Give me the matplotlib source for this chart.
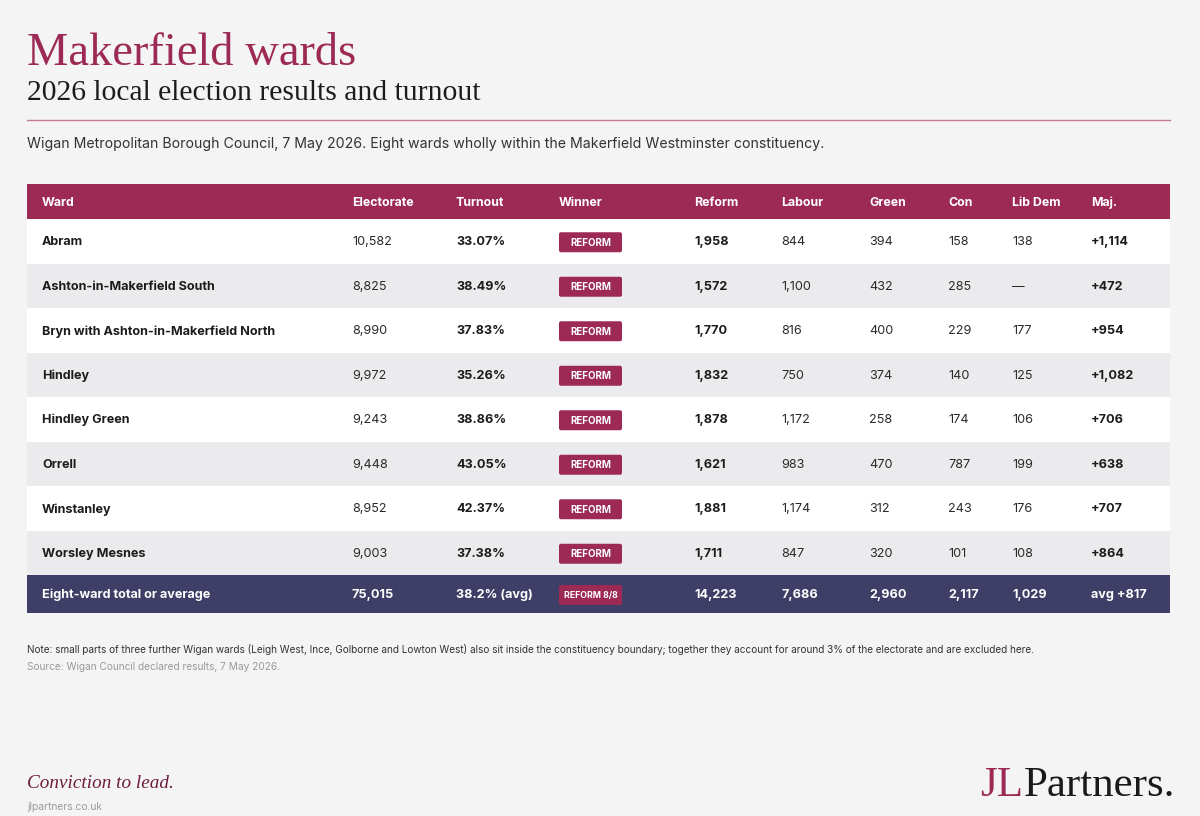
import matplotlib
matplotlib.use("Agg")
import matplotlib.pyplot as plt
from matplotlib.patches import Rectangle, FancyBboxPatch

# ---------------------------------------------------------------
# data
# ---------------------------------------------------------------
wards = ["Abram", "Ashton-in-Makerfield South", "Bryn with Ashton-in-Makerfield North",
         "Hindley", "Hindley Green", "Orrell", "Winstanley", "Worsley Mesnes"]
electorate = [10582, 8825, 8990, 9972, 9243, 9448, 8952, 9003]
turnout = [33.07, 38.49, 37.83, 35.26, 38.86, 43.05, 42.37, 37.38]
winner = ["REFORM"] * 8
reform = [1958, 1572, 1770, 1832, 1878, 1621, 1881, 1711]
labour = [844, 1100, 816, 750, 1172, 983, 1174, 847]
green = [394, 432, 400, 374, 258, 470, 312, 320]
con = [158, 285, 229, 140, 174, 787, 243, 101]
libdem = [138, None, 177, 125, 106, 199, 176, 108]
majority = [1114, 472, 954, 1082, 706, 638, 707, 864]

headers = ["Ward", "Electorate", "Turnout", "Winner", "Reform",
           "Labour", "Green", "Con", "Lib Dem", "Maj."]

# colours
BG = "#f4f4f4"
CRIMSON = "#9c2a55"
NAVY = "#3e3e66"
ALT = "#ebebee"
INK = "#1c1c1c"
BODY = "Inter"

fig = plt.figure(figsize=(12, 8.16), dpi=100, facecolor=BG)
ax = fig.add_axes([0, 0, 1, 1])
ax.set_xlim(0, 1200)
ax.set_ylim(816, 0)
ax.axis("off")
ax.set_facecolor(BG)

# ---------------------------------------------------------------
# titles
# ---------------------------------------------------------------
ax.text(27, 65, "Makerfield wards", family="Liberation Serif", fontsize=33.5,
        color=CRIMSON, va="baseline", ha="left")
ax.text(27, 100, "2026 local election results and turnout", family="Liberation Serif",
        fontsize=21.3, color=INK, va="baseline", ha="left")
ax.plot([27, 1170], [120, 120], color="#c47a93", lw=1.0)
ax.text(27, 148, "Wigan Metropolitan Borough Council, 7 May 2026. Eight wards wholly "
        "within the Makerfield Westminster constituency.",
        family=BODY, fontsize=10.2, color="#333333", va="baseline")

# ---------------------------------------------------------------
# table
# ---------------------------------------------------------------
left, right = 27, 1170
head_top, head_h = 184, 35
row_h = 44.5
col_x = [42, 352, 456, 559, 694, 781, 869, 948, 1012, 1091]

ax.add_patch(Rectangle((left, head_top), right - left, head_h, color=CRIMSON, lw=0))
for x, h in zip(col_x, headers):
    ax.text(x, head_top + head_h / 2 + 1, h, family=BODY, fontsize=8.9,
            fontweight="bold", color="white", va="center")


def badge(xc, yc, label, size):
    ax.add_patch(FancyBboxPatch((559 + 2, yc - 8), 59, 16,
                                boxstyle="round,pad=2,rounding_size=2",
                                fc=CRIMSON, ec="none"))
    ax.text(590.5, yc + 0.5, label, family=BODY, fontsize=size, fontweight="bold",
            color="white", ha="center", va="center")


def fmt(v):
    return "\u2014" if v is None else f"{v:,}"


y0 = head_top + head_h
for i in range(len(wards)):
    top = y0 + i * row_h
    ax.add_patch(Rectangle((left, top), right - left, row_h,
                           color="white" if i % 2 == 0 else ALT, lw=0))
    yc = top + row_h / 2
    cells = [wards[i], fmt(electorate[i]), f"{turnout[i]:.2f}%", None,
             fmt(reform[i]), fmt(labour[i]), fmt(green[i]), fmt(con[i]),
             fmt(libdem[i]), f"+{majority[i]:,}"]
    bold = [True, False, True, False, True, False, False, False, False, True]
    for x, c, b in zip(col_x, cells, bold):
        if c is None:
            badge(x, yc + 1, winner[i], 7.0)
            continue
        ax.text(x, yc + 1, c, family=BODY, fontsize=9.1,
                fontweight="bold" if b else "normal",
                color=INK if b else "#2a2a2a", va="center")

# total row
tot_top = y0 + len(wards) * row_h
tot_h = 38
ax.add_patch(Rectangle((left, tot_top), right - left, tot_h, color=NAVY, lw=0))
avg_turn = sum(e * t for e, t in zip(electorate, turnout)) / sum(electorate)
avg_maj = sum(majority) / len(majority)
n_won = sum(1 for w in winner if w == "REFORM")
totals = ["Eight-ward total or average", fmt(sum(electorate)), f"{avg_turn:.1f}% (avg)",
          None, fmt(sum(reform)), fmt(sum(labour)), fmt(sum(green)), fmt(sum(con)),
          fmt(sum(v for v in libdem if v is not None)), f"avg +{avg_maj:.0f}"]
yc = tot_top + tot_h / 2 + 1
for x, c in zip(col_x, totals):
    if c is None:
        badge(x, yc, f"REFORM {n_won}/{len(winner)}", 6.3)
        continue
    ax.text(x, yc, c, family=BODY, fontsize=9.1, fontweight="bold",
            color="white", va="center")

# ---------------------------------------------------------------
# notes and footer
# ---------------------------------------------------------------
ax.text(27, 653, "Note: small parts of three further Wigan wards (Leigh West, Ince, Golborne "
        "and Lowton West) also sit inside the constituency boundary; together they account "
        "for around 3% of the electorate and are excluded here.",
        family=BODY, fontsize=7.2, color="#333333", va="baseline")
ax.text(27, 670, "Source: Wigan Council declared results, 7 May 2026.",
        family=BODY, fontsize=7.3, color="#9a9a9a", va="baseline")

ax.text(27, 788, "Conviction to lead.", family="Liberation Serif", style="italic",
        fontsize=13.8, color="#6e1c3f", va="baseline")
ax.text(27, 810, "jlpartners.co.uk", family=BODY, fontsize=7.4, color="#9a9a9a",
        va="baseline")

# logo: "JL" in crimson, "Partners." in ink
renderer = fig.canvas.get_renderer()
t2 = ax.text(1175, 796, "Partners.", family="Liberation Serif", fontsize=31,
             color="#1a1a1a", ha="right", va="baseline")
bb = t2.get_window_extent(renderer=renderer)
x_start = ax.transData.inverted().transform((bb.x0, bb.y0))[0]
ax.text(x_start, 796, "JL", family="Liberation Serif", fontsize=31,
        color=CRIMSON, ha="right", va="baseline")

fig.savefig("out.png", dpi=100, facecolor=BG)
